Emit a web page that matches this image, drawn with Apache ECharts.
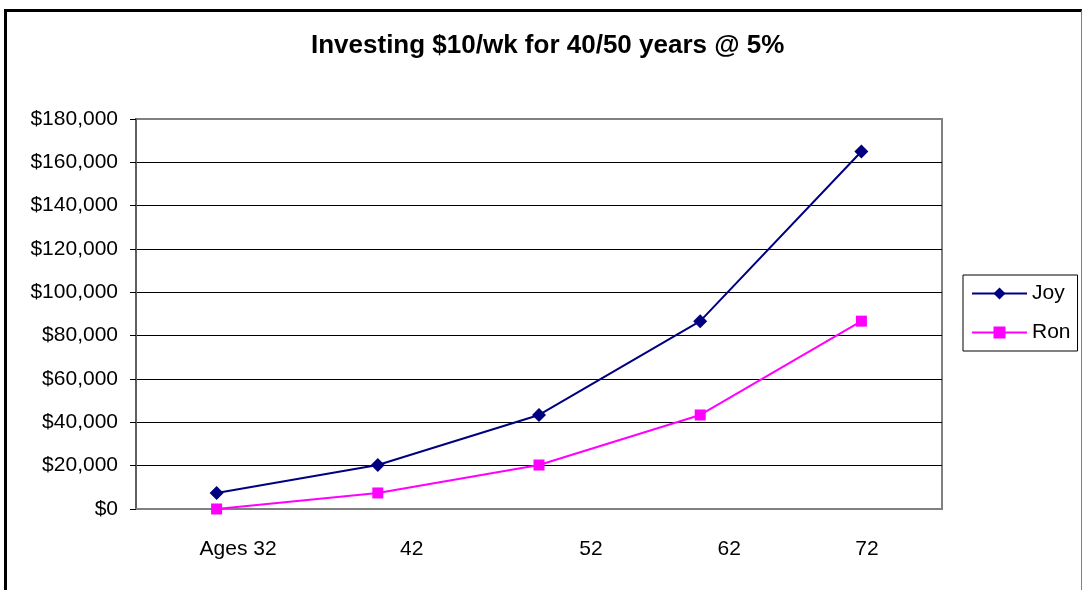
<!DOCTYPE html>
<html>
<head>
<meta charset="utf-8">
<script src="https://cdn.jsdelivr.net/npm/echarts@6/dist/echarts.min.js"></script>
<style>
  html, body { margin: 0; padding: 0; background: #fff; }
  #wrap { position: relative; width: 1083px; height: 590px; overflow: hidden; }
  #chart { position: absolute; left: 0; top: 0; width: 1083px; height: 590px; }
  #frame {
    position: absolute; left: 4px; top: 9px; width: 1074px; height: 620px;
    border-left: 3px solid #000; border-top: 3px solid #000; border-right: 1px solid #808080;
    pointer-events: none;
  }
</style>
</head>
<body>
<div id="wrap">
  <div id="chart"></div>
  <div id="frame"></div>
</div>
<script>
var categories = ['Ages 32', '42', '52', '62', '72'];
var joy = [7400, 20300, 43400, 86700, 165000];
var ron = [0, 7400, 20300, 43400, 86700];
var yMin = 0;
var yMax = 180000;
var yStep = 20000;

(function() {
  var font = '"Liberation Sans", Arial, sans-serif';
  // the old chart drew its category labels a little right of each point
  var labelNudge = [43, 68, 104, 58, 11];
  var rich = {};
  labelNudge.forEach(function(p, i) {
    rich['l' + i] = { fontSize: 21, fontFamily: font, color: '#000', padding: [0, 0, 0, p] };
  });

  var chart = echarts.init(document.getElementById('chart'), null, { renderer: 'canvas' });
  chart.setOption({
    animation: false,
    backgroundColor: '#fff',
    title: {
      text: 'Investing $10/wk for 40/50 years @ 5%',
      left: 311,
      top: 33,
      padding: 0,
      textStyle: { fontSize: 26, fontWeight: 'bold', fontFamily: font, color: '#000' }
    },
    legend: {
      orient: 'vertical',
      left: 963,
      top: 275,
      padding: [8, 7, 8, 8],
      itemWidth: 55,
      itemHeight: 15,
      itemGap: 18,
      selectedMode: false,
      borderColor: '#000',
      borderWidth: 1,
      textStyle: { fontSize: 21, fontFamily: font, color: '#000' },
      data: ['Joy', 'Ron']
    },
    grid: { left: 136, right: 141, top: 119, bottom: 81, show: true, borderColor: '#808080', borderWidth: 2, backgroundColor: '#fff' },
    xAxis: {
      type: 'category',
      data: categories,
      boundaryGap: true,
      axisLine: { lineStyle: { color: '#808080', width: 2 } },
      axisTick: { show: false },
      axisLabel: {
        margin: 30,
        fontSize: 21,
        fontFamily: font,
        color: '#000',
        formatter: function(v, i) { return '{l' + i + '|' + v + '}'; },
        rich: rich
      }
    },
    yAxis: {
      type: 'value',
      min: yMin,
      max: yMax,
      interval: yStep,
      axisLine: { show: true, lineStyle: { color: '#606060', width: 2 } },
      axisTick: { show: true, length: 6, lineStyle: { color: '#000' } },
      axisLabel: {
        margin: 18,
        fontSize: 21,
        fontFamily: font,
        color: '#000',
        formatter: function(v) { return '$' + v.toLocaleString('en-US'); }
      },
      splitLine: { show: true, showMinLine: false, showMaxLine: false, lineStyle: { color: '#000', width: 1 } }
    },
    series: [
      {
        name: 'Joy',
        type: 'line',
        data: joy,
        symbol: 'diamond',
        symbolSize: 14,
        lineStyle: { color: '#000080', width: 2 },
        itemStyle: { color: '#000080' }
      },
      {
        name: 'Ron',
        type: 'line',
        data: ron,
        symbol: 'rect',
        symbolSize: 11,
        lineStyle: { color: '#ff00ff', width: 2 },
        itemStyle: { color: '#ff00ff' }
      }
    ]
  });
})();
</script>
</body>
</html>
